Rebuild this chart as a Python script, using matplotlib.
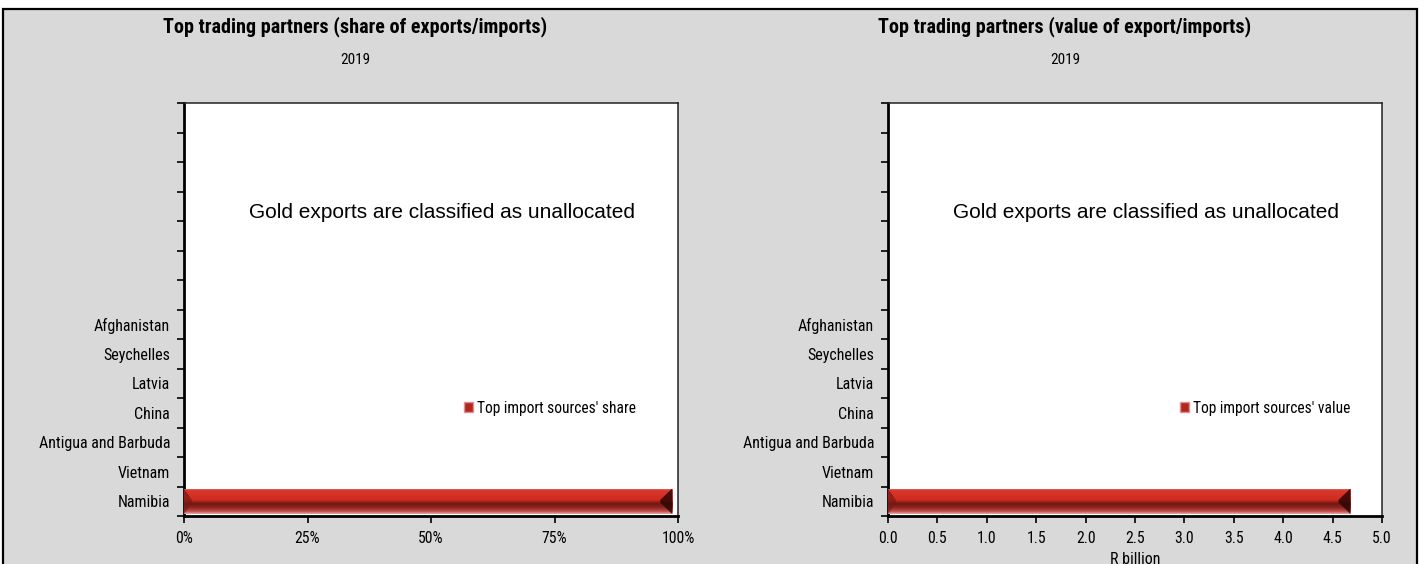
import numpy as np
import matplotlib
matplotlib.use("Agg")
import matplotlib.pyplot as plt
from matplotlib.colors import LinearSegmentedColormap
from matplotlib.patches import Rectangle, Polygon
from matplotlib.ticker import FixedLocator, FuncFormatter

# data (bottom to top)
partners = ["Namibia", "Vietnam", "Antigua and Barbuda", "China", "Latvia",
            "Seychelles", "Afghanistan", "", "", "", "", "", "", ""]
import_share = [98.8, 0, 0, 0, 0, 0, 0, 0, 0, 0, 0, 0, 0, 0]       # %
import_value = [4.68, 0, 0, 0, 0, 0, 0, 0, 0, 0, 0, 0, 0, 0]       # R billion
share_ticks = [0, 25, 50, 75, 100]
value_ticks = [0.0, 0.5, 1.0, 1.5, 2.0, 2.5, 3.0, 3.5, 4.0, 4.5, 5.0]

NARROW = ["Roboto Condensed", "Liberation Sans", "DejaVu Sans"]
REG = ["Liberation Sans", "DejaVu Sans"]
BG = "#d9d9d9"

# top -> bottom shading of the bevelled bar
bar_cmap = LinearSegmentedColormap.from_list(
    "bevel", [(0.0, "#e8a6a2"), (0.07, "#d93a2e"), (0.45, "#d02a20"),
              (0.6, "#701812"), (0.75, "#8a2420"), (0.9, "#c24a46"),
              (1.0, "#e6a6a6")])

fig = plt.figure(figsize=(14.24, 5.64), dpi=100, facecolor="white")
frame = Rectangle((3 / 1424, -0.1), 1414 / 1424, 1 - 9 / 564 + 0.1,
                  transform=fig.transFigure, facecolor=BG,
                  edgecolor="black", linewidth=1.6, zorder=-10)
fig.patches.append(frame)


def panel(left, values, ticks, xmax, fmt, title, legend_label, leg_x, xlabel=None):
    ax = fig.add_axes([left / 1424, 48 / 564, 494 / 1424, 413 / 564])
    ax.set_zorder(1)
    ax.set_facecolor("white")
    y = np.arange(len(partners))
    bars = ax.barh(y, values, height=0.86, color="#c8281e", label=legend_label,
                   edgecolor="none", zorder=2)
    grad = np.linspace(0, 1, 64)[:, None]
    for b in bars:
        x0, y0 = b.get_x(), b.get_y()
        w, h = b.get_width(), b.get_height()
        if w <= 0:
            continue
        im = ax.imshow(grad, cmap=bar_cmap, extent=(x0, x0 + w, y0, y0 + h),
                       origin="upper", aspect="auto", zorder=3,
                       interpolation="bilinear")
        im.set_clip_path(b)
        # bevelled ends
        dr, dl = xmax * 0.024, xmax * 0.016
        ax.add_patch(Polygon([(x0 + w, y0), (x0 + w - dr, y0 + h * 0.45),
                              (x0 + w - dr, y0 + h * 0.55), (x0 + w, y0 + h)],
                             closed=True, facecolor="#2e0604", alpha=0.85, zorder=4))
        ax.add_patch(Polygon([(x0, y0), (x0 + dl, y0 + h * 0.45),
                              (x0 + dl, y0 + h * 0.55), (x0, y0 + h)],
                             closed=True, facecolor="#7a1a14", alpha=0.7, zorder=4))

    ax.set_xlim(0, xmax)
    ax.set_ylim(-0.5, len(partners) - 0.5)

    ax.yaxis.set_major_locator(FixedLocator(np.arange(-0.5, len(partners), 1.0)))
    ax.yaxis.set_major_formatter(FuncFormatter(lambda v, p: ""))
    ax.yaxis.set_minor_locator(FixedLocator(y))
    ax.set_yticklabels(partners, minor=True)
    ax.tick_params(axis="y", which="major", length=5, width=1.2, direction="out")
    ax.tick_params(axis="y", which="minor", length=0, pad=10, labelsize=11.5)
    ax.set_xticks(ticks)
    ax.xaxis.set_major_formatter(FuncFormatter(fmt))
    ax.tick_params(axis="x", length=5, width=1.2, pad=6, labelsize=11.3)
    for lab in ax.get_xticklabels() + ax.get_yticklabels(minor=True):
        lab.set_family(NARROW)

    for s in ("left", "bottom"):
        ax.spines[s].set_linewidth(2)
    for s in ("top", "right"):
        ax.spines[s].set_linewidth(1.1)
        ax.spines[s].set_color("#222222")

    ax.text(0.5 + 11 / 494, 1 - 110 / 413, "Gold exports are classified as unallocated",
            transform=ax.transAxes, ha="center", va="center", fontsize=15,
            family=REG)

    leg = ax.legend(loc="center left", bbox_to_anchor=(leg_x, 1 - 305 / 413),
                    frameon=False, handlelength=0.55, handleheight=0.55,
                    handletextpad=0.25, borderpad=0.2,
                    prop={"family": NARROW, "size": 11.2})
    for h in leg.legend_handles:
        h.set_facecolor("#b02820")
        h.set_edgecolor("#e09090")

    if xlabel:
        ax.set_xlabel(xlabel, family=NARROW, fontsize=11.5, labelpad=4)

    cx = (left + 494 / 2) / 1424
    shift = (76 if left < 700 else 70) / 1424
    fig.text(cx - shift, 1 - 27 / 564, title, ha="center", va="center",
             fontsize=14.5, fontweight="bold", family=NARROW)
    fig.text(cx - shift, 1 - 60 / 564, "2019", ha="center", va="center",
             fontsize=11, family=NARROW)
    return ax


panel(184, import_share, share_ticks, 100, lambda v, p: f"{v:.0f}%",
      "Top trading partners (share of exports/imports)",
      "Top import sources' share", 0.545)
panel(888, import_value, value_ticks, 5.0, lambda v, p: f"{v:.1f}",
      "Top trading partners (value of export/imports)",
      "Top import sources' value", 0.57, xlabel="R billion")

fig.savefig("out.png", dpi=100, facecolor=fig.get_facecolor())
